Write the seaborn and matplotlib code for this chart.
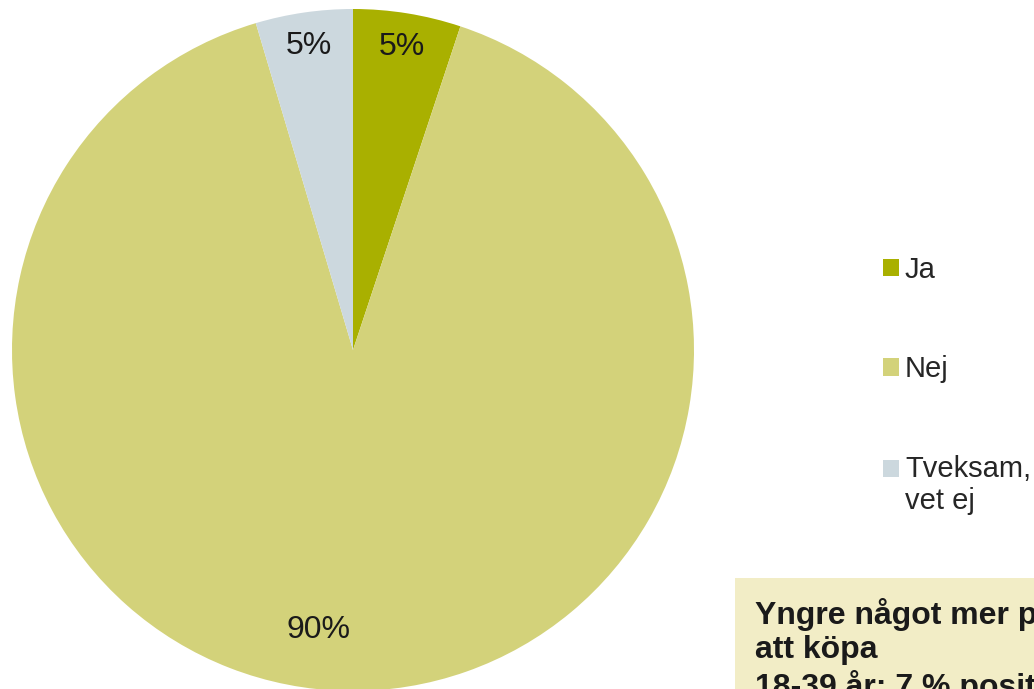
import matplotlib.pyplot as plt
import seaborn as sns
from matplotlib.legend_handler import HandlerPatch
from matplotlib.patches import Patch, Rectangle

# Data
categories = ["Ja", "Nej", "Tveksam,\nvet ej"]
shares = [5.1, 90.3, 4.6]
colors = ["#A9B000", "#D3D27A", "#CCD8DE"]
note_text = "Yngre något mer positiva till\natt köpa\n18-39 år: 7 % positiva"

sns.set_theme(style="white")
plt.rcParams["font.family"] = ["Liberation Sans", "DejaVu Sans"]

fig = plt.figure(figsize=(10.34, 6.89), dpi=100)
ax = fig.add_axes([12 / 1034, -2 / 689, 682 / 1034, 682 / 689])

wedges, _, autotexts = ax.pie(
    shares,
    colors=colors,
    startangle=90,
    counterclock=False,
    autopct="%.0f%%",
    pctdistance=0.9,
    wedgeprops=dict(linewidth=0),
    textprops=dict(fontsize=23, color="#1a1a1a"),
)
# big slice label sits lower-left like in the original
autotexts[1].set_position((-0.1, -0.82))
ax.set_xlim(-1, 1)
ax.set_ylim(-1, 1)
ax.set_aspect("equal")
ax.axis("off")


def top_line_patch(legend, orig_handle, xdescent, ydescent, width, height, fontsize):
    # keep the square level with the first line of a two-line label
    return Rectangle((-xdescent, -ydescent + 0.6 * fontsize), width, height)


handles = [Patch(facecolor=c, edgecolor="none") for c in colors]
fig.legend(
    handles,
    categories,
    loc="upper left",
    bbox_to_anchor=(883 / 1034, 1 - 256 / 689),
    frameon=False,
    fontsize=21,
    labelspacing=2.45,
    handlelength=0.55,
    handleheight=0.55,
    handletextpad=0.2,
    borderpad=0,
    borderaxespad=0,
    handler_map={handles[2]: HandlerPatch(patch_func=top_line_patch)},
)

fig.text(
    755 / 1034,
    1 - 598 / 689,
    note_text,
    fontsize=23,
    fontweight="bold",
    color="#1a1a1a",
    va="top",
    ha="left",
    linespacing=1.19,
    bbox=dict(boxstyle="square,pad=0.63", facecolor="#F2EDC6", edgecolor="none"),
)

fig.savefig("out.png", dpi=100)
